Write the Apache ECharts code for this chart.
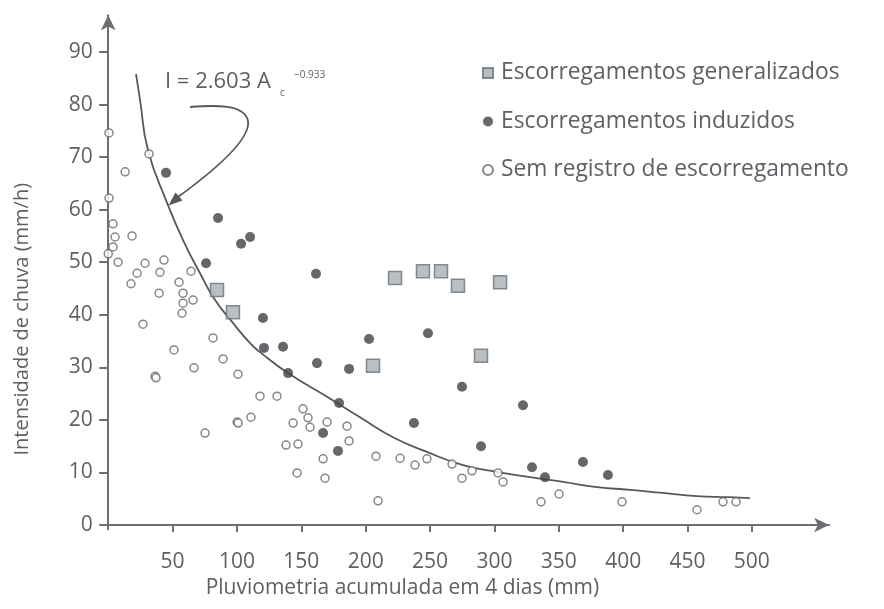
<!DOCTYPE html>
<html>
<head>
<meta charset="utf-8">
<script src="https://cdn.jsdelivr.net/npm/echarts@6/dist/echarts.min.js"></script>
<style>
html,body{margin:0;padding:0;background:#fff;}
#chart{width:884px;height:609px;}
</style>
</head>
<body>
<div id="chart"></div>
<script>
// Tick labels
const xTicks = [50, 100, 150, 200, 250, 300, 350, 400, 450, 500];
const yTicks = [0, 10, 20, 30, 40, 50, 60, 70, 80, 90];

// Escorregamentos generalizados [A (mm), I (mm/h)]
const generalizados = [
  [84.5, 44.7], [96.9, 40.5], [205.7, 30.3], [222.8, 47.0], [244.5, 48.3],
  [258.5, 48.3], [271.7, 45.5], [304.4, 46.2], [289.6, 32.2]
];

// Escorregamentos induzidos
const induzidos = [
  [44.9, 67.0], [85.3, 58.4], [103.2, 53.5], [110.2, 54.8], [76.0, 49.8],
  [120.2, 39.4], [121.0, 33.7], [135.8, 33.9], [139.7, 28.9], [161.4, 47.8],
  [162.2, 30.8], [187.1, 29.7], [202.6, 35.4], [248.4, 36.5], [179.3, 23.2],
  [237.5, 19.4], [166.9, 17.5], [178.5, 14.1], [274.8, 26.3], [322.2, 22.8],
  [289.6, 15.0], [329.2, 11.0], [339.3, 9.1], [368.8, 12.0], [388.2, 9.5]
];

// Sem registro de escorregamento
const semRegistro = [
  [0.6, 74.6], [31.7, 70.6], [13.1, 67.2], [0.6, 62.2], [3.7, 57.3],
  [5.3, 54.8], [3.7, 52.9], [0, 51.6], [7.6, 50.0], [18.5, 55.0],
  [17.7, 45.9], [22.4, 47.9], [28.6, 49.8], [43.3, 50.4], [40.2, 48.1],
  [55.0, 46.2], [64.3, 48.3], [39.5, 44.1], [58.1, 44.1], [58.1, 42.2],
  [65.9, 42.8], [57.3, 40.3], [27.0, 38.2], [81.4, 35.6], [51.1, 33.3],
  [89.2, 31.6], [66.6, 29.9], [36.4, 28.3], [37.1, 28.0], [100.8, 28.7],
  [117.9, 24.5], [131.1, 24.5], [100.1, 19.6], [101.0, 19.4], [110.9, 20.5],
  [75.2, 17.5], [151.3, 22.1], [155.2, 20.4], [156.8, 18.6], [143.6, 19.4],
  [170.0, 19.6], [185.5, 18.8], [187.1, 16.0], [138.1, 15.2], [147.4, 15.4],
  [166.9, 12.6], [208.0, 13.1], [226.7, 12.7], [238.3, 11.4], [247.6, 12.6],
  [146.7, 9.9], [168.4, 8.9], [209.6, 4.6], [267.1, 11.6], [274.8, 8.9],
  [282.6, 10.3], [302.8, 9.9], [306.7, 8.2], [336.2, 4.4], [350.2, 5.9],
  [399.1, 4.4], [457.4, 2.9], [477.6, 4.4], [487.7, 4.4]
];

// Curve (I = 2.603 A^-0.933)
const curva = [
  [21.6, 85.8], [24.7, 80.9], [30.9, 71.3], [45.7, 61.3], [58.1, 54.2],
  [71.3, 47.9], [83.0, 42.8], [97.0, 38.4], [110.2, 34.6], [117.9, 32.9],
  [139.6, 28.9], [170.0, 24.4], [195.6, 20.5], [221.2, 16.7], [247.6, 13.9],
  [275.6, 11.4], [302.0, 10.1], [327.6, 9.1], [353.3, 8.2], [379.7, 7.2],
  [405.3, 6.7], [430.9, 6.1], [457.3, 5.5], [482.9, 5.3], [498.5, 5.1]
];

const names = ['Escorregamentos generalizados', 'Escorregamentos induzidos', 'Sem registro de escorregamento'];

const FONT = 'Open Sans';
const TXT = '#5d6165';
const AX = '#6b6f73';

const chart = echarts.init(document.getElementById('chart'));
chart.setOption({
  backgroundColor: '#ffffff',
  animation: false,
  grid: { left: 101.8, top: 15.2, width: 727.3, height: 514 },
  legend: {
    orient: 'vertical',
    left: 477,
    top: 56.5,
    itemWidth: 10,
    itemHeight: 10,
    itemGap: 25.5,
    data: names,
    textStyle: { fontFamily: FONT, fontSize: 22.8, color: TXT, lineHeight: 22, padding: [0, 0, 0, 3] }
  },
  xAxis: {
    type: 'value',
    min: -5,
    max: 560,
    name: 'Pluviometria acumulada em 4 dias (mm)',
    nameLocation: 'middle',
    nameGap: 36,
    nameTextStyle: { fontFamily: FONT, fontSize: 21, color: TXT, padding: [0, 126, 0, 0] },
    axisLine: { show: true, lineStyle: { color: AX, width: 2 }, symbol: ['none', 'arrow'], symbolSize: [11, 15] },
    axisTick: { show: true, length: 7, customValues: xTicks, lineStyle: { color: AX, width: 2 } },
    axisLabel: { customValues: xTicks, margin: 22, fontFamily: FONT, fontSize: 21, color: TXT },
    splitLine: { show: false }
  },
  yAxis: {
    type: 'value',
    min: -0.8,
    max: 97,
    name: 'Intensidade de chuva (mm/h)',
    nameLocation: 'middle',
    nameGap: 70,
    nameTextStyle: { fontFamily: FONT, fontSize: 20, color: TXT, padding: [0, 94, 0, 0] },
    axisLine: { show: true, lineStyle: { color: AX, width: 2 }, symbol: ['none', 'arrow'], symbolSize: [11, 15] },
    axisTick: { show: true, length: 9, customValues: yTicks, lineStyle: { color: AX, width: 2 } },
    axisLabel: { customValues: yTicks, margin: 9, fontFamily: FONT, fontSize: 21, color: TXT },
    splitLine: { show: false }
  },
  series: [
    {
      name: 'Curva',
      type: 'line',
      data: curva,
      smooth: true,
      symbol: 'none',
      silent: true,
      lineStyle: { color: '#55595d', width: 1.8 },
      z: 1
    },
    {
      name: names[0],
      type: 'scatter',
      symbol: 'rect',
      symbolSize: 13,
      data: generalizados,
      itemStyle: { color: '#a9afb5', borderColor: '#6c7278', borderWidth: 1.5 },
      z: 3
    },
    {
      name: names[1],
      type: 'scatter',
      symbol: 'circle',
      symbolSize: 10,
      data: induzidos,
      itemStyle: { color: '#3e4246' },
      z: 3
    },
    {
      name: names[2],
      type: 'scatter',
      symbol: 'circle',
      symbolSize: 8,
      data: semRegistro,
      itemStyle: { color: '#ffffff', borderColor: '#666a6e', borderWidth: 1.5 },
      z: 2
    }
  ],
  graphic: [
    { type: 'text', x: 165, y: 82, style: { text: 'I = 2.603 A', font: '22px "Open Sans"', fill: TXT, textVerticalAlign: 'middle' } },
    { type: 'text', x: 280, y: 93, style: { text: 'c', font: '10px "Open Sans"', fill: TXT, textVerticalAlign: 'middle' } },
    { type: 'text', x: 294, y: 75, style: { text: '\u22120.933', font: '10px "Open Sans"', fill: TXT, textVerticalAlign: 'middle' } },
    { type: 'bezierCurve', shape: { x1: 190, y1: 107, cpx1: 215, cpy1: 105, cpx2: 245, cpy2: 104, x2: 248, y2: 121 },
      style: { stroke: '#55595d', lineWidth: 1.8, fill: null } },
    { type: 'bezierCurve', shape: { x1: 248, y1: 121, cpx1: 251, cpy1: 139, cpx2: 215, cpy2: 170, x2: 178, y2: 197 },
      style: { stroke: '#55595d', lineWidth: 1.8, fill: null } },
    { type: 'polygon', shape: { points: [[168.5, 205.5], [175.5, 192.5], [182.5, 200.5]] },
      style: { fill: '#55595d' } }
  ]
});
</script>
</body>
</html>
